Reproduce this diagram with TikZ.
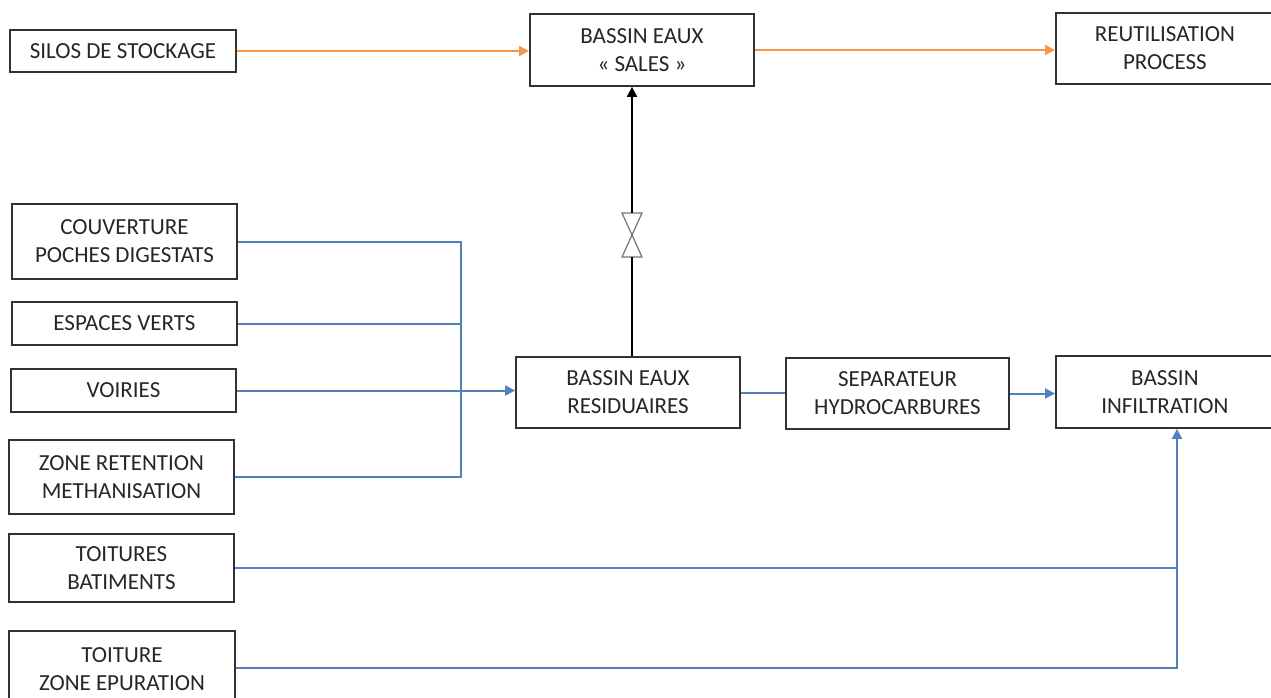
\documentclass[tikz,border=0pt]{standalone}
\usepackage{fontspec}
\setmainfont{Carlito}
\usetikzlibrary{arrows.meta}
\definecolor{orng}{RGB}{247,150,70}
\definecolor{blu}{RGB}{79,129,189}
\definecolor{bord}{RGB}{50,50,50}
\begin{document}
\begin{tikzpicture}[x=1pt,y=-1pt,
  box/.style={draw=bord,line width=1.8pt,inner sep=0pt,align=center,
    font=\fontsize{23}{28}\selectfont,text=black!85},
  oflow/.style={draw=orng,line width=2pt,-{Triangle[length=10pt,width=10pt]}},
  bflow/.style={draw=blu,line width=2pt},
  barrow/.style={bflow,-{Triangle[length=10pt,width=10pt]}},
  kflow/.style={draw=black,line width=1.8pt}]
\useasboundingbox (0,0) rectangle (1271,698);
\begin{scope}
\clip (0,0) rectangle (1271,698);
% nodes
\node[box,minimum width=226pt,minimum height=42pt] (silos) at (123,51) {SILOS DE STOCKAGE};
\node[box,minimum width=224pt,minimum height=72pt] (sales) at (642,50) {BASSIN EAUX\\« SALES »};
\node[box,minimum width=224pt,minimum height=71pt,anchor=west] (reut) at (1055,48.5) {\hspace*{-6pt}REUTILISATION\\\hspace*{-6pt}PROCESS};
\node[box,minimum width=225pt,minimum height=75pt] (couv) at (124.5,241.5) {COUVERTURE\\POCHES DIGESTATS};
\node[box,minimum width=225pt,minimum height=43pt] (esp) at (124.5,323.5) {ESPACES VERTS};
\node[box,minimum width=225pt,minimum height=43pt] (voir) at (123.5,390.5) {VOIRIES};
\node[box,minimum width=225pt,minimum height=74pt] (zone) at (121.5,477) {ZONE RETENTION\\METHANISATION};
\node[box,minimum width=225pt,minimum height=68pt] (toit) at (121.5,568) {TOITURES\\BATIMENTS};
\node[box,minimum width=226pt,minimum height=76pt,anchor=north] (toitz) at (122,630) {TOITURE\\ZONE EPURATION};
\node[box,minimum width=224pt,minimum height=71pt] (resid) at (628,392.5) {BASSIN EAUX\\RESIDUAIRES};
\node[box,minimum width=223pt,minimum height=71pt] (sep) at (897.5,393.5) {SEPARATEUR\\HYDROCARBURES};
\node[box,minimum width=224pt,minimum height=72pt,anchor=west] (infil) at (1055,392) {\hspace*{-6pt}BASSIN\\\hspace*{-6pt}INFILTRATION};
\end{scope}
% orange flows
\draw[oflow] (silos.east) -- (sales.west |- silos.east);
\draw[oflow] (sales.east) -- (reut.west |- sales.east);
% valve
\coordinate (vt) at (632,213);
\coordinate (vb) at (632,257);
\draw[draw=black!55,line width=1.2pt,line join=miter] (622,213) -- (642,213) -- (622,257) -- (642,257) -- cycle;
\draw[kflow] (resid.north -| vb) -- (vb);
\draw[kflow,-{Triangle[length=10pt,width=10pt]}] (vt) -- (sales.south -| vt);
% blue collector
\coordinate (bus) at (461,0);
\draw[bflow] (couv.east) -- (couv.east -| bus) -- (zone.east -| bus) -- (zone.east);
\draw[bflow] (esp.east) -- (esp.east -| bus);
\draw[barrow] (voir.east) -- (resid.west |- voir.east);
\draw[bflow] (resid.east) -- (sep.west |- resid.east);
\draw[barrow] (sep.east) -- (infil.west |- sep.east);
\coordinate (col) at (1177,0);
\draw[bflow] (toit.east) -- (toit.east -| col);
\draw[barrow] (toitz.east |- 0,668) -- (col |- 0,668) -- (infil.south -| col);
\end{tikzpicture}
\end{document}
